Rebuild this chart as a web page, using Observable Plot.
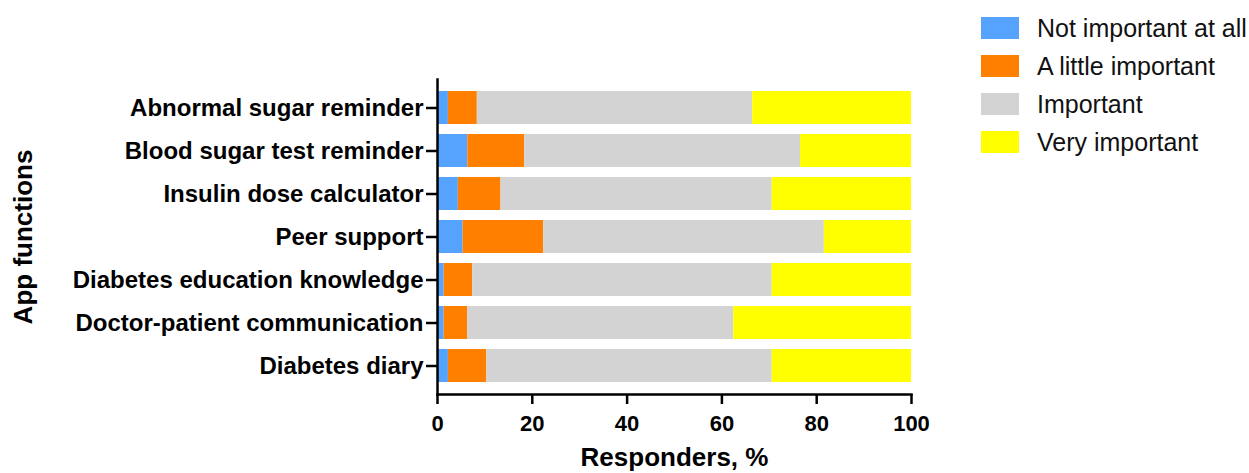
<!DOCTYPE html>
<html>
<head>
<meta charset="utf-8">
<script src="https://cdn.jsdelivr.net/npm/d3@7"></script>
<script src="https://cdn.jsdelivr.net/npm/@observablehq/plot@0.6"></script>
<style>
  html, body { margin: 0; padding: 0; background: #fff; }
  #wrap { position: relative; width: 1249px; height: 473px; font-family: "Liberation Sans", Arial, sans-serif; }
  #legend { position: absolute; left: 981px; top: 17px; }
  .item { display: flex; align-items: center; height: 22px; margin-bottom: 16px; font-size: 25px; color: #111; white-space: nowrap; }
  .sw { width: 38px; height: 22px; margin-right: 18px; flex: none; }
</style>
</head>
<body>
<div id="wrap"><div id="legend"></div></div>
<script>
const functions = ["Abnormal sugar reminder", "Blood sugar test reminder", "Insulin dose calculator", "Peer support", "Diabetes education knowledge", "Doctor-patient communication", "Diabetes diary"];
const levels = ["Not important at all", "A little important", "Important", "Very important"];
const colors = ["#55A2FF", "#FF7F00", "#D3D3D3", "#FFFF00"];
const notImportant = [2.3, 6.4, 4.4, 5.4, 1.4, 1.4, 2.3];
const littleImportant = [6.1, 12.0, 9.0, 17.0, 6.0, 5.0, 8.1];
const important = [58.1, 58.2, 57.2, 59.2, 63.2, 56.1, 60.2];
const veryImportant = [33.5, 23.4, 29.4, 18.4, 29.4, 37.5, 29.4];
const xTicks = [0, 20, 40, 60, 80, 100];

const series = [notImportant, littleImportant, important, veryImportant];
const data = [];
functions.forEach((f, i) => {
  levels.forEach((lv, j) => data.push({fn: f, level: lv, value: series[j][i]}));
});

const font = "'Liberation Sans', Arial, sans-serif";
const chart = Plot.plot({
  width: 1249, height: 473,
  marginLeft: 437, marginRight: 338, marginTop: 79, marginBottom: 79,
  style: {fontFamily: font, background: "transparent", color: "#000"},
  x: {domain: [0, 100]},
  y: {domain: functions, paddingInner: 0.236, paddingOuter: 0.278},
  color: {domain: levels, range: colors},
  marks: [
    Plot.barX(data, Plot.stackX({x: "value", y: "fn", fill: "level"})),
    Plot.frame({anchor: "left", stroke: "#000", strokeWidth: 2.5}),
    Plot.frame({anchor: "bottom", stroke: "#000", strokeWidth: 2.5}),
    Plot.axisX({ticks: xTicks, tickSize: 10, tickPadding: 11, strokeWidth: 2.5, fontSize: 22, fontWeight: "bold",
      label: "Responders, %", labelAnchor: "center", labelOffset: 71, labelArrow: "none"}),
    Plot.axisY({tickSize: 11, tickPadding: 3, strokeWidth: 2.5, fontSize: 24, fontWeight: "bold",
      label: "App functions", labelAnchor: "center", labelOffset: 424, labelArrow: "none"})
  ]
});
document.getElementById("wrap").appendChild(chart);
const sel = d3.select(chart);
sel.selectAll("g[aria-label='x-axis label'], g[aria-label='y-axis label'], g[aria-label='x-axis label'] text, g[aria-label='y-axis label'] text").attr("font-size", 26).attr("font-weight", "bold");

const legend = document.getElementById("legend");
levels.forEach((lv, j) => {
  const it = document.createElement("div");
  it.className = "item";
  it.innerHTML = `<div class="sw" style="background:${colors[j]}"></div><span>${lv}</span>`;
  legend.appendChild(it);
});
</script>
</body>
</html>
